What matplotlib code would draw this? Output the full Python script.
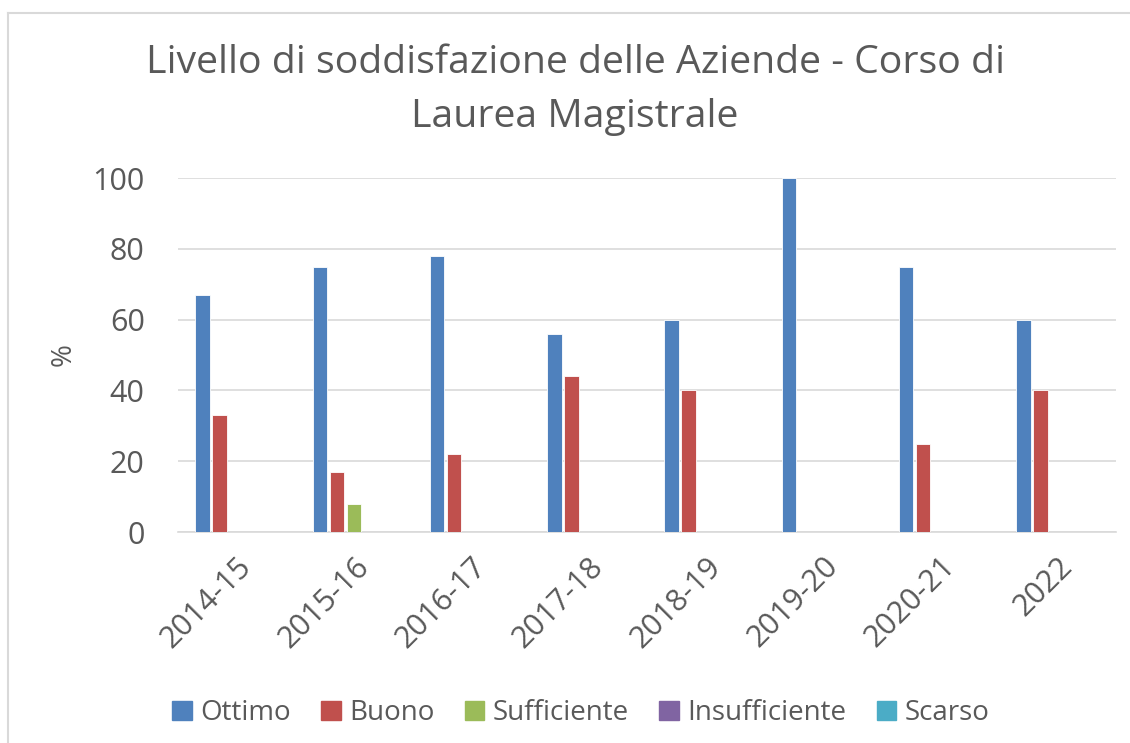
import matplotlib
matplotlib.use("Agg")
import matplotlib.pyplot as plt
import numpy as np
from matplotlib.lines import Line2D

categories = ["2014-15", "2015-16", "2016-17", "2017-18", "2018-19", "2019-20", "2020-21", "2022"]
series_names = ["Ottimo", "Buono", "Sufficiente", "Insufficiente", "Scarso"]
ottimo = [67, 75, 78, 56, 60, 100, 75, 60]
buono = [33, 17, 22, 44, 40, 0, 25, 40]
sufficiente = [0, 8, 0, 0, 0, 0, 0, 0]
insufficiente = [0, 0, 0, 0, 0, 0, 0, 0]
scarso = [0, 0, 0, 0, 0, 0, 0, 0]
colors = ["#4F81BD", "#C0504D", "#9BBB59", "#8064A2", "#4BACC6"]

plt.rcParams['font.family'] = ['Open Sans', 'DejaVu Sans']
txt = "#595959"

fig = plt.figure(figsize=(11.30, 7.43), dpi=100)
ax = fig.add_axes([178/1130, 1-532/743, (1116-178)/1130, (532-178)/743])

x = np.arange(len(categories))
slot = 0.145
bw = 0.125
all_series = [ottimo, buono, sufficiente, insufficiente, scarso]
for i, (vals, name, c) in enumerate(zip(all_series, series_names, colors)):
    ax.bar(x + (i - 2) * slot, vals, width=bw, color=c, edgecolor="white", linewidth=0.6, label=name, zorder=3)

ax.set_xlim(-0.5, len(categories) - 0.5)
ax.set_ylim(0, 100)
ax.set_yticks(range(0, 101, 20))
ax.grid(axis="y", color="#D9D9D9", linewidth=1.2, zorder=0)
for s in ["top", "right", "left"]:
    ax.spines[s].set_visible(False)
ax.spines["bottom"].set_color("#D9D9D9")
ax.spines["bottom"].set_linewidth(1.2)
ax.tick_params(axis="both", length=0, colors=txt, labelsize=22)
ax.tick_params(axis="y", pad=24)
ax.tick_params(axis="x", pad=14)
ax.set_xticks(x)
ax.set_xticklabels(categories, rotation=45, ha="right", rotation_mode="anchor", color=txt)
ax.set_ylabel("%", color=txt, fontsize=20)
ax.yaxis.set_label_coords(-0.107, 0.5)

fig.text(0.509, 1-90/743, "Livello di soddisfazione delle Aziende - Corso di\nLaurea Magistrale",
         ha="center", va="center", fontsize=28.3, color=txt, linespacing=1.52)

handles = [plt.Rectangle((0, 0), 1, 1, color=c) for c in colors]
fig.legend(handles, series_names, loc="center", bbox_to_anchor=(0.514, 1-713/743), ncol=5,
           frameon=False, fontsize=20, labelcolor=txt, handlelength=0.7, handleheight=0.7,
           handletextpad=0.3, columnspacing=1.1)

fig.add_artist(Line2D([8/1130, 1], [1-13/743, 1-13/743], color="#D9D9D9", linewidth=1.5, transform=fig.transFigure))
fig.add_artist(Line2D([8/1130, 8/1130], [0, 1-13/743], color="#D9D9D9", linewidth=1.5, transform=fig.transFigure))

fig.savefig("out.png", dpi=100, facecolor="white")
